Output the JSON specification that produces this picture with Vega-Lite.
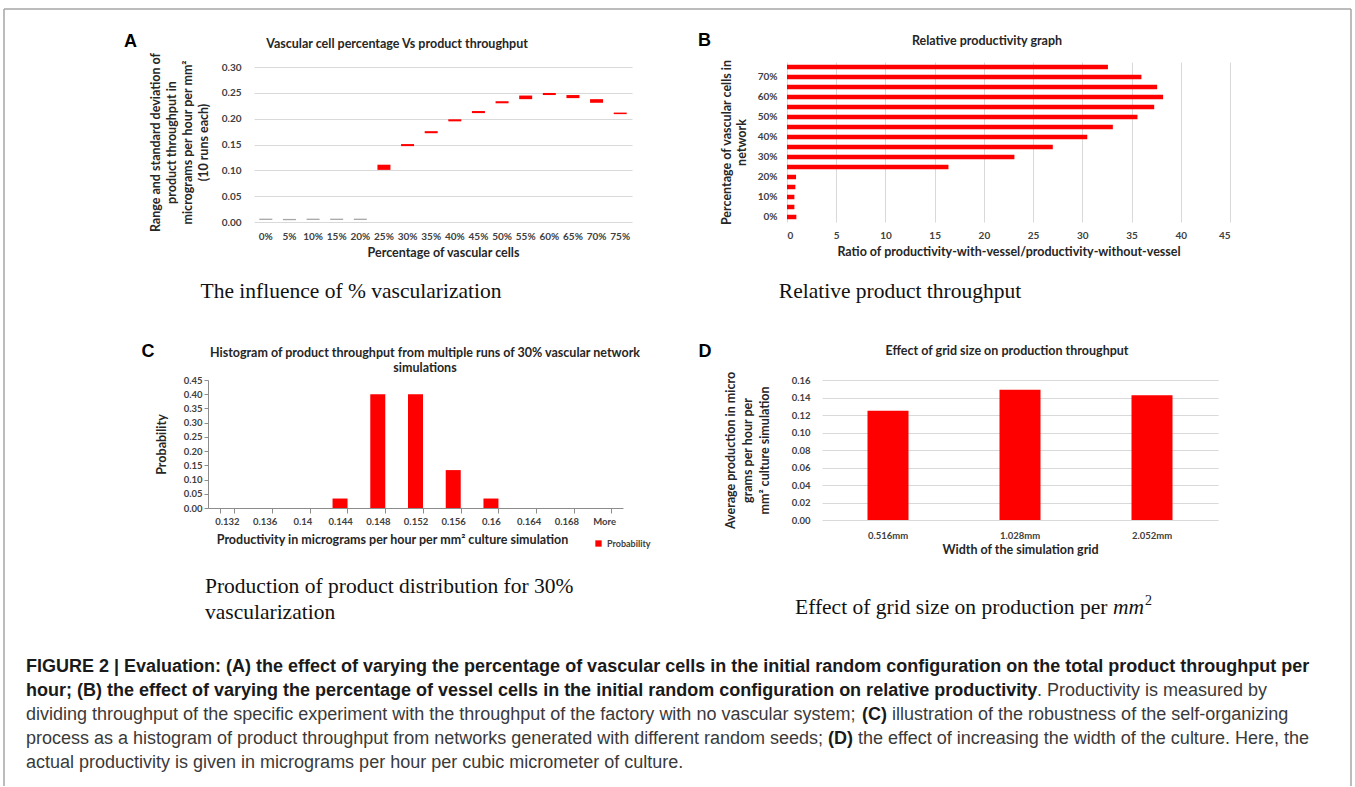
{
  "$schema": "https://vega.github.io/schema/vega-lite/v6.json",
  "background": "white",
  "autosize": {"type": "none"},
  "padding": {"left": 4, "top": 9, "right": 4, "bottom": 1},
  "width": 1347,
  "height": 777,
  "config": {
    "view": {"stroke": null},
    "axis": {"labelFont": "Lato", "labelFontWeight": "bold", "labelFontSize": 10, "labelColor": "#404040", "titleFont": "Lato", "titleFontWeight": "bold", "titleFontSize": 12.5, "titleColor": "#262626", "gridColor": "#d9d9d9", "domainColor": "#8c8c8c", "tickColor": "#8c8c8c", "labelOverlap": false}
  },
  "resolve": {
    "scale": {"x": "independent", "y": "independent", "color": "independent"},
    "axis": {"x": "independent", "y": "independent"},
    "legend": {"color": "independent"}
  },
  "layer": [
    {
      "data": {"values": [{"x": 0, "x2": 1, "y": 1, "y2": 1}, {"x": 0, "x2": 0, "y": 0, "y2": 1}, {"x": 1, "x2": 1, "y": 0, "y2": 1}]},
      "mark": {"type": "rule", "color": "#a6a6a6", "strokeWidth": 1.5},
      "encoding": {
        "x": {"field": "x", "type": "quantitative", "scale": {"domain": [0, 1], "nice": false}, "axis": null},
        "x2": {"field": "x2"},
        "y": {"field": "y", "type": "quantitative", "scale": {"domain": [0, 1], "nice": false}, "axis": null},
        "y2": {"field": "y2"}
      }
    },
    {
      "data": {"values": [{"ratio": 0, "g": "grid"}, {"ratio": 45, "g": "grid"}]},
      "mark": {"type": "point", "opacity": 0},
      "encoding": {
        "x": {"field": "ratio", "type": "quantitative",
              "scale": {"domain": [0, 45], "nice": false, "range": [783, 1226]},
              "axis": {"orient": "top", "offset": 0, "values": [0, 5, 10, 15, 20, 25, 30, 35, 40, 45], "grid": true, "labels": false, "ticks": false, "domain": false, "title": null}},
        "y": {"field": "g", "type": "nominal", "scale": {"range": [53, 213], "paddingInner": 0, "paddingOuter": 0}, "axis": null}
      }
    },
    {
      "data": {"values": [
        {"pct": "0%", "lo": 0.004, "hi": 0.0065, "k": "low"},
        {"pct": "5%", "lo": 0.0035, "hi": 0.006, "k": "low"},
        {"pct": "10%", "lo": 0.004, "hi": 0.0065, "k": "low"},
        {"pct": "15%", "lo": 0.004, "hi": 0.0065, "k": "low"},
        {"pct": "20%", "lo": 0.004, "hi": 0.0065, "k": "low"},
        {"pct": "25%", "lo": 0.101, "hi": 0.111, "k": "high"},
        {"pct": "30%", "lo": 0.147, "hi": 0.151, "k": "high"},
        {"pct": "35%", "lo": 0.172, "hi": 0.176, "k": "high"},
        {"pct": "40%", "lo": 0.195, "hi": 0.199, "k": "high"},
        {"pct": "45%", "lo": 0.211, "hi": 0.215, "k": "high"},
        {"pct": "50%", "lo": 0.230, "hi": 0.234, "k": "high"},
        {"pct": "55%", "lo": 0.238, "hi": 0.245, "k": "high"},
        {"pct": "60%", "lo": 0.246, "hi": 0.250, "k": "high"},
        {"pct": "65%", "lo": 0.240, "hi": 0.246, "k": "high"},
        {"pct": "70%", "lo": 0.231, "hi": 0.238, "k": "high"},
        {"pct": "75%", "lo": 0.209, "hi": 0.212, "k": "high"}
      ]},
      "mark": {"type": "bar", "width": 13},
      "encoding": {
        "x": {"field": "pct", "type": "ordinal", "sort": null,
              "scale": {"range": [250, 628], "paddingInner": 0, "paddingOuter": 0},
              "axis": {"orient": "bottom", "offset": -564, "title": "Percentage of vascular cells", "labelAngle": 0, "ticks": false, "tickSize": 0, "domain": false, "labelPadding": 9, "titlePadding": 5}},
        "y": {"field": "lo", "type": "quantitative",
              "scale": {"domain": [0, 0.31], "nice": false, "range": [213, 53]},
              "axis": {"orient": "left", "offset": -250, "values": [0, 0.05, 0.1, 0.15, 0.2, 0.25, 0.3], "format": ".2f", "grid": true, "ticks": false, "tickSize": 0, "domain": false, "labelPadding": 13,
                       "title": ["Range and standard deviation of", "product throughput in", "micrograms per hour per mm²", "(10 runs each)"], "titleLineHeight": 16, "titlePadding": 11}},
        "y2": {"field": "hi"},
        "color": {"field": "k", "type": "nominal", "scale": {"domain": ["low", "high"], "range": ["#a6a6a6", "#ff0000"]}, "legend": null}
      }
    },
    {
      "data": {"values": [
        {"pct": "0%", "ratio": 0.95}, {"pct": "5%", "ratio": 0.75}, {"pct": "10%", "ratio": 0.75}, {"pct": "15%", "ratio": 0.85},
        {"pct": "20%", "ratio": 0.92}, {"pct": "25%", "ratio": 16.4}, {"pct": "30%", "ratio": 23.1}, {"pct": "35%", "ratio": 27.0},
        {"pct": "40%", "ratio": 30.5}, {"pct": "45%", "ratio": 33.1}, {"pct": "50%", "ratio": 35.6}, {"pct": "55%", "ratio": 37.3},
        {"pct": "60%", "ratio": 38.2}, {"pct": "65%", "ratio": 37.6}, {"pct": "70%", "ratio": 36.0}, {"pct": "75%", "ratio": 32.6}
      ]},
      "mark": {"type": "bar", "color": "#ff0000"},
      "encoding": {
        "y": {"field": "pct", "type": "ordinal", "sort": ["75%", "70%", "65%", "60%", "55%", "50%", "45%", "40%", "35%", "30%", "25%", "20%", "15%", "10%", "5%", "0%"],
              "scale": {"range": [53, 213], "paddingInner": 0.55, "paddingOuter": 0.275},
              "axis": {"orient": "left", "offset": -783, "values": ["70%", "60%", "50%", "40%", "30%", "20%", "10%", "0%"], "ticks": false, "tickSize": 0, "domain": false, "labelPadding": 10,
                       "title": ["Percentage of vascular cells in", "network"], "titleLineHeight": 15, "titlePadding": 9}},
        "x": {"field": "ratio", "type": "quantitative",
              "scale": {"domain": [0, 45], "nice": false, "range": [783, 1226]},
              "axis": {"orient": "bottom", "offset": -564, "values": [0, 5, 10, 15, 20, 25, 30, 35, 40, 45], "grid": false, "ticks": false, "tickSize": 0, "domain": false, "labelPadding": 8, "titlePadding": 5,
                       "title": "Ratio of productivity-with-vessel/productivity-without-vessel"}}
      }
    },
    {
      "data": {"values": [
        {"bin": "0.132", "p": 0, "s": "Probability"}, {"bin": "0.136", "p": 0, "s": "Probability"}, {"bin": "0.14", "p": 0, "s": "Probability"},
        {"bin": "0.144", "p": 0.0333, "s": "Probability"}, {"bin": "0.148", "p": 0.4, "s": "Probability"}, {"bin": "0.152", "p": 0.4, "s": "Probability"},
        {"bin": "0.156", "p": 0.1333, "s": "Probability"}, {"bin": "0.16", "p": 0.0333, "s": "Probability"}, {"bin": "0.164", "p": 0, "s": "Probability"},
        {"bin": "0.168", "p": 0, "s": "Probability"}, {"bin": "More", "p": 0, "s": "Probability"}
      ]},
      "mark": {"type": "bar", "width": 15},
      "encoding": {
        "x": {"field": "bin", "type": "ordinal", "sort": null,
              "scale": {"range": [204, 619], "paddingInner": 0.61, "paddingOuter": 0.305},
              "axis": {"orient": "bottom", "offset": -278, "title": "Productivity in micrograms per hour per mm² culture simulation", "titleX": 388, "labelAngle": 0, "tickBand": "extent", "tickSize": 5, "labelPadding": 3, "labelFontSize": 9.5, "titlePadding": 8}},
        "y": {"field": "p", "type": "quantitative",
              "scale": {"domain": [0, 0.45], "nice": false, "range": [499, 371]},
              "axis": {"orient": "left", "offset": -204, "values": [0, 0.05, 0.1, 0.15, 0.2, 0.25, 0.3, 0.35, 0.4, 0.45], "format": ".2f", "grid": false, "tickSize": 4, "labelPadding": 2, "labelFontSize": 9.5, "title": "Probability", "titlePadding": 15}},
        "color": {"field": "s", "type": "nominal", "scale": {"range": ["#ff0000"]},
                  "legend": {"orient": "none", "legendX": 590, "legendY": 530, "title": null, "symbolType": "square", "symbolSize": 40, "labelFont": "Lato", "labelFontWeight": "bold", "labelFontSize": 9, "labelColor": "#404040"}}
      }
    },
    {
      "data": {"values": [{"w": "0.516mm", "v": 0.125}, {"w": "1.028mm", "v": 0.149}, {"w": "2.052mm", "v": 0.1425}]},
      "mark": {"type": "bar", "color": "#ff0000", "width": 41},
      "encoding": {
        "x": {"field": "w", "type": "ordinal", "sort": null,
              "scale": {"range": [818, 1214], "paddingInner": 0.69, "paddingOuter": 0.345},
              "axis": {"orient": "bottom", "offset": -266, "title": "Width of the simulation grid", "labelAngle": 0, "ticks": false, "tickSize": 0, "domain": false, "labelPadding": 10, "labelFontSize": 9.5, "titlePadding": 4}},
        "y": {"field": "v", "type": "quantitative",
              "scale": {"domain": [0, 0.16], "nice": false, "range": [511, 371]},
              "axis": {"orient": "left", "offset": -818, "values": [0, 0.02, 0.04, 0.06, 0.08, 0.1, 0.12, 0.14, 0.16], "format": ".2f", "grid": true, "ticks": false, "tickSize": 0, "domain": false, "labelPadding": 12, "labelFontSize": 9.5,
                       "title": ["Average production in micro", "grams per hour per", "mm² culture simulation"], "titleLineHeight": 17, "titlePadding": 20}}
      }
    },
    {
      "data": {"values": [{"t": "A"}]},
      "mark": {"type": "text", "font": "Liberation Sans", "fontWeight": "bold", "fontSize": 18, "align": "center", "baseline": "middle", "color": "#000000"},
      "encoding": {"x": {"value": 126.5}, "y": {"value": 33}, "text": {"field": "t"}}
    },
    {
      "data": {"values": [{"t": "B"}]},
      "mark": {"type": "text", "font": "Liberation Sans", "fontWeight": "bold", "fontSize": 18, "align": "center", "baseline": "middle", "color": "#000000"},
      "encoding": {"x": {"value": 700.5}, "y": {"value": 32}, "text": {"field": "t"}}
    },
    {
      "data": {"values": [{"t": "C"}]},
      "mark": {"type": "text", "font": "Liberation Sans", "fontWeight": "bold", "fontSize": 18, "align": "center", "baseline": "middle", "color": "#000000"},
      "encoding": {"x": {"value": 144}, "y": {"value": 343}, "text": {"field": "t"}}
    },
    {
      "data": {"values": [{"t": "D"}]},
      "mark": {"type": "text", "font": "Liberation Sans", "fontWeight": "bold", "fontSize": 18, "align": "center", "baseline": "middle", "color": "#000000"},
      "encoding": {"x": {"value": 701}, "y": {"value": 343}, "text": {"field": "t"}}
    },
    {
      "data": {"values": [{"t": "Vascular cell percentage Vs product throughput"}]},
      "mark": {"type": "text", "font": "Lato", "fontWeight": "bold", "fontSize": 12.5, "align": "center", "baseline": "middle", "color": "#262626"},
      "encoding": {"x": {"value": 393}, "y": {"value": 35}, "text": {"field": "t"}}
    },
    {
      "data": {"values": [{"t": "Relative productivity graph"}]},
      "mark": {"type": "text", "font": "Lato", "fontWeight": "bold", "fontSize": 12.5, "align": "center", "baseline": "middle", "color": "#262626"},
      "encoding": {"x": {"value": 983}, "y": {"value": 32}, "text": {"field": "t"}}
    },
    {
      "data": {"values": [{"t": ["Histogram of product throughput from multiple runs of 30% vascular network", "simulations"]}]},
      "mark": {"type": "text", "font": "Lato", "fontWeight": "bold", "fontSize": 12.5, "lineHeight": 15, "align": "center", "baseline": "middle", "color": "#262626"},
      "encoding": {"x": {"value": 421}, "y": {"value": 343.5}, "text": {"field": "t"}}
    },
    {
      "data": {"values": [{"t": "Effect of grid size on production throughput"}]},
      "mark": {"type": "text", "font": "Lato", "fontWeight": "bold", "fontSize": 12.5, "align": "center", "baseline": "middle", "color": "#262626"},
      "encoding": {"x": {"value": 1003}, "y": {"value": 342}, "text": {"field": "t"}}
    },
    {
      "data": {"values": [{"t": "The influence of % vascularization"}]},
      "mark": {"type": "text", "font": "Liberation Serif", "fontSize": 21.5, "align": "center", "baseline": "alphabetic", "color": "#111111"},
      "encoding": {"x": {"value": 347}, "y": {"value": 289}, "text": {"field": "t"}}
    },
    {
      "data": {"values": [{"t": "Relative product throughput"}]},
      "mark": {"type": "text", "font": "Liberation Serif", "fontSize": 21.5, "align": "center", "baseline": "alphabetic", "color": "#111111"},
      "encoding": {"x": {"value": 896}, "y": {"value": 289}, "text": {"field": "t"}}
    },
    {
      "data": {"values": [{"t": ["Production of product distribution for 30%", "vascularization"]}]},
      "mark": {"type": "text", "font": "Liberation Serif", "fontSize": 21.5, "lineHeight": 26, "align": "left", "baseline": "alphabetic", "color": "#111111"},
      "encoding": {"x": {"value": 201}, "y": {"value": 584}, "text": {"field": "t"}}
    },
    {
      "data": {"values": [{"t": "Effect of grid size on production per"}]},
      "mark": {"type": "text", "font": "Liberation Serif", "fontSize": 21.5, "align": "left", "baseline": "alphabetic", "color": "#111111"},
      "encoding": {"x": {"value": 791}, "y": {"value": 605}, "text": {"field": "t"}}
    },
    {
      "data": {"values": [{"t": "mm"}]},
      "mark": {"type": "text", "font": "Liberation Serif", "fontStyle": "italic", "fontSize": 21.5, "align": "left", "baseline": "alphabetic", "color": "#111111", "dx": 318},
      "encoding": {"x": {"value": 791}, "y": {"value": 605}, "text": {"field": "t"}}
    },
    {
      "data": {"values": [{"t": "2"}]},
      "mark": {"type": "text", "font": "Liberation Serif", "fontSize": 14, "align": "left", "baseline": "alphabetic", "color": "#111111", "dx": 350, "dy": -9},
      "encoding": {"x": {"value": 791}, "y": {"value": 605}, "text": {"field": "t"}}
    },
    {
      "data": {"values": [
        {"line": 0, "t": "FIGURE 2 | Evaluation: (A) the effect of varying the percentage of vascular cells in the initial random configuration on the total product throughput per"},
        {"line": 1, "t": "hour; (B) the effect of varying the percentage of vessel cells in the initial random configuration on relative productivity"}]},
      "mark": {"type": "text", "font": "Liberation Sans", "fontWeight": "bold", "fontSize": 18, "align": "left", "baseline": "middle", "color": "#1a1a1a"},
      "encoding": {"x": {"value": 22}, "y": {"field": "line", "type": "ordinal", "scale": {"type": "point", "padding": 0, "domain": [0, 1, 2, 3, 4], "range": [657.7, 753.7]}, "axis": null}, "text": {"field": "t"}}
    },
    {
      "data": {"values": [
        {"line": 2, "t": "dividing throughput of the specific experiment with the throughput of the factory with no vascular system;"},
        {"line": 3, "t": "process as a histogram of product throughput from networks generated with different random seeds;"},
        {"line": 4, "t": "actual productivity is given in micrograms per hour per cubic micrometer of culture."}]},
      "mark": {"type": "text", "font": "Liberation Sans", "fontSize": 18, "align": "left", "baseline": "middle", "color": "#3a3a3a"},
      "encoding": {"x": {"value": 22}, "y": {"field": "line", "type": "ordinal", "scale": {"type": "point", "padding": 0, "domain": [0, 1, 2, 3, 4], "range": [657.7, 753.7]}, "axis": null}, "text": {"field": "t"}}
    },
    {
      "data": {"values": [{"line": 1, "t": ". Productivity is measured by"}]},
      "mark": {"type": "text", "font": "Liberation Sans", "fontSize": 18, "align": "left", "baseline": "middle", "color": "#3a3a3a", "dx": 1011},
      "encoding": {"x": {"value": 22}, "y": {"field": "line", "type": "ordinal", "scale": {"type": "point", "padding": 0, "domain": [0, 1, 2, 3, 4], "range": [657.7, 753.7]}, "axis": null}, "text": {"field": "t"}}
    },
    {
      "data": {"values": [{"line": 2, "t": "(C)"}]},
      "mark": {"type": "text", "font": "Liberation Sans", "fontWeight": "bold", "fontSize": 18, "align": "left", "baseline": "middle", "color": "#1a1a1a", "dx": 836},
      "encoding": {"x": {"value": 22}, "y": {"field": "line", "type": "ordinal", "scale": {"type": "point", "padding": 0, "domain": [0, 1, 2, 3, 4], "range": [657.7, 753.7]}, "axis": null}, "text": {"field": "t"}}
    },
    {
      "data": {"values": [{"line": 2, "t": "illustration of the robustness of the self-organizing"}]},
      "mark": {"type": "text", "font": "Liberation Sans", "fontSize": 18, "align": "left", "baseline": "middle", "color": "#3a3a3a", "dx": 866},
      "encoding": {"x": {"value": 22}, "y": {"field": "line", "type": "ordinal", "scale": {"type": "point", "padding": 0, "domain": [0, 1, 2, 3, 4], "range": [657.7, 753.7]}, "axis": null}, "text": {"field": "t"}}
    },
    {
      "data": {"values": [{"line": 3, "t": "(D)"}]},
      "mark": {"type": "text", "font": "Liberation Sans", "fontWeight": "bold", "fontSize": 18, "align": "left", "baseline": "middle", "color": "#1a1a1a", "dx": 802},
      "encoding": {"x": {"value": 22}, "y": {"field": "line", "type": "ordinal", "scale": {"type": "point", "padding": 0, "domain": [0, 1, 2, 3, 4], "range": [657.7, 753.7]}, "axis": null}, "text": {"field": "t"}}
    },
    {
      "data": {"values": [{"line": 3, "t": "the effect of increasing the width of the culture. Here, the"}]},
      "mark": {"type": "text", "font": "Liberation Sans", "fontSize": 18, "align": "left", "baseline": "middle", "color": "#3a3a3a", "dx": 832},
      "encoding": {"x": {"value": 22}, "y": {"field": "line", "type": "ordinal", "scale": {"type": "point", "padding": 0, "domain": [0, 1, 2, 3, 4], "range": [657.7, 753.7]}, "axis": null}, "text": {"field": "t"}}
    }
  ]
}
